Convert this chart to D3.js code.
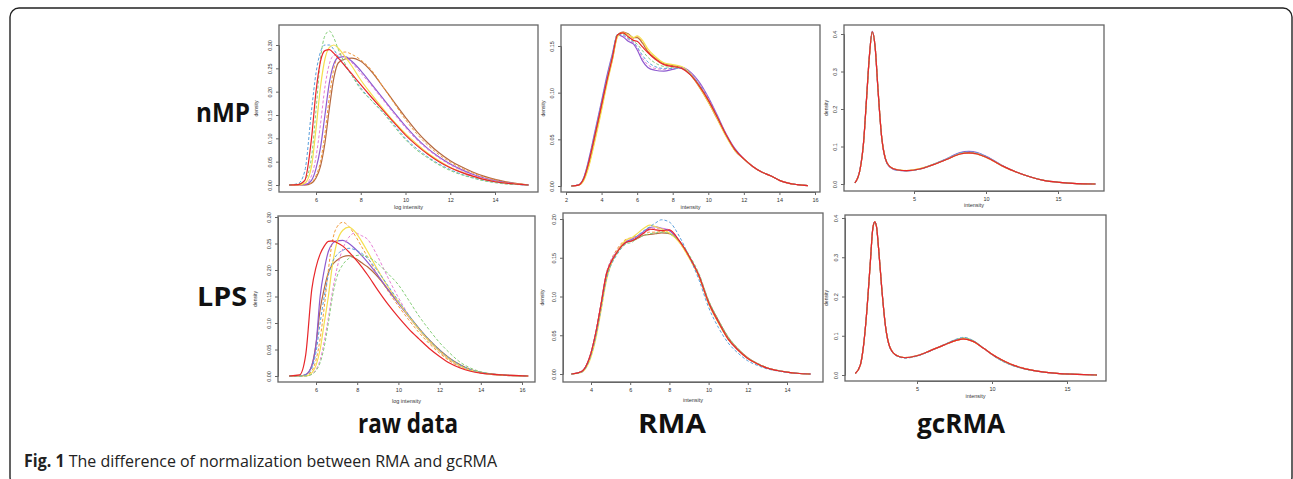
<!DOCTYPE html>
<html>
<head>
<meta charset="utf-8">
<style>
  body, html { margin: 0; padding: 0; background: #fff; }
  svg { display: block; }
</style>
</head>
<body>
<svg width="1293" height="479"></svg>
<script src="https://d3js.org/d3.v7.min.js"></script>
<script>
// ---- data ----
// series order in every panel: red, green, blue, yellow, pink, purple, orange, brown
var rawGridNmp = [4.8,5.2,5.5,5.8,6.0,6.2,6.4,6.6,6.8,7.0,7.3,7.6,8.0,8.5,9.0,9.5,10,10.5,11,11.5,12,12.5,13,13.5,14,14.5,15,15.5];
var rawNmp = [
  [0,0.001,0.01,0.1,0.2,0.265,0.288,0.29,0.282,0.272,0.255,0.238,0.215,0.187,0.16,0.133,0.107,0.085,0.066,0.05,0.037,0.027,0.019,0.012,0.007,0.004,0.002,0],
  [0,0.002,0.01,0.06,0.16,0.27,0.32,0.33,0.315,0.29,0.26,0.235,0.205,0.18,0.155,0.125,0.097,0.075,0.058,0.043,0.031,0.022,0.015,0.009,0.005,0.002,0.001,0],
  [0,0.003,0.03,0.16,0.24,0.285,0.30,0.30,0.29,0.275,0.255,0.235,0.208,0.18,0.155,0.128,0.1,0.078,0.06,0.045,0.033,0.023,0.016,0.01,0.006,0.003,0.001,0],
  [0,0,0.004,0.04,0.12,0.21,0.27,0.295,0.30,0.293,0.275,0.255,0.225,0.193,0.163,0.135,0.11,0.088,0.068,0.052,0.038,0.028,0.019,0.012,0.007,0.004,0.002,0],
  [0,0,0.002,0.02,0.06,0.13,0.21,0.26,0.278,0.28,0.275,0.262,0.24,0.212,0.182,0.152,0.123,0.097,0.076,0.058,0.043,0.031,0.021,0.014,0.008,0.004,0.002,0],
  [0,0,0.001,0.01,0.035,0.08,0.15,0.22,0.26,0.273,0.275,0.265,0.245,0.215,0.185,0.155,0.126,0.1,0.078,0.06,0.045,0.033,0.023,0.015,0.009,0.005,0.002,0],
  [0,0,0,0.005,0.02,0.05,0.11,0.19,0.25,0.278,0.285,0.28,0.268,0.245,0.21,0.175,0.14,0.11,0.085,0.065,0.049,0.036,0.026,0.017,0.011,0.006,0.003,0],
  [0,0,0,0.004,0.015,0.04,0.09,0.165,0.23,0.262,0.27,0.272,0.265,0.242,0.21,0.177,0.145,0.115,0.09,0.069,0.052,0.039,0.028,0.019,0.012,0.007,0.003,0]
];

var rmaGridNmp = [2.3,2.7,3.0,3.3,3.6,4.0,4.3,4.6,4.9,5.2,5.5,5.8,6.0,6.3,6.6,7.0,7.5,8.0,8.5,9.0,9.5,10,10.5,11,11.5,12,12.5,13,13.5,14,14.5,15,15.6];
var rmaNmp = [
  [0,0.001,0.008,0.027,0.052,0.087,0.113,0.137,0.162,0.164,0.16,0.156,0.155,0.149,0.143,0.136,0.13,0.128,0.126,0.119,0.107,0.092,0.074,0.055,0.039,0.029,0.021,0.015,0.011,0.006,0.003,0.0015,0.0005],
  [0,0.001,0.008,0.027,0.052,0.087,0.114,0.138,0.163,0.163,0.159,0.155,0.152,0.145,0.138,0.132,0.128,0.127,0.126,0.12,0.108,0.092,0.074,0.055,0.039,0.029,0.021,0.015,0.011,0.006,0.003,0.0015,0.0005],
  [0,0.0012,0.009,0.029,0.055,0.09,0.116,0.14,0.163,0.162,0.158,0.154,0.149,0.14,0.133,0.128,0.126,0.126,0.126,0.12,0.109,0.093,0.075,0.055,0.039,0.029,0.021,0.015,0.011,0.006,0.003,0.0015,0.0005],
  [0,0.0008,0.006,0.022,0.046,0.081,0.109,0.134,0.16,0.164,0.162,0.159,0.161,0.156,0.147,0.139,0.132,0.13,0.128,0.12,0.106,0.09,0.072,0.053,0.038,0.029,0.021,0.015,0.011,0.006,0.003,0.0015,0.0005],
  [0,0.0012,0.009,0.029,0.054,0.089,0.115,0.139,0.163,0.161,0.157,0.153,0.148,0.137,0.13,0.126,0.125,0.126,0.127,0.121,0.11,0.094,0.075,0.056,0.039,0.029,0.021,0.015,0.011,0.006,0.003,0.0015,0.0005],
  [0,0.0012,0.009,0.03,0.056,0.091,0.118,0.141,0.162,0.16,0.155,0.152,0.146,0.134,0.127,0.124,0.123,0.125,0.127,0.122,0.111,0.095,0.076,0.056,0.04,0.029,0.021,0.015,0.011,0.006,0.003,0.0015,0.0005],
  [0,0.001,0.007,0.025,0.05,0.085,0.112,0.136,0.162,0.165,0.162,0.158,0.16,0.154,0.145,0.138,0.131,0.129,0.127,0.12,0.107,0.091,0.073,0.054,0.038,0.029,0.021,0.015,0.011,0.006,0.003,0.0015,0.0005],
  [0,0.0009,0.007,0.024,0.049,0.084,0.111,0.135,0.161,0.165,0.163,0.159,0.159,0.153,0.144,0.137,0.131,0.129,0.127,0.119,0.106,0.09,0.072,0.054,0.038,0.029,0.021,0.015,0.011,0.006,0.003,0.0015,0.0005]
];

var gcGridNmp = [0.9,1.25,1.5,1.7,1.9,2.1,2.3,2.5,2.75,3.0,3.3,3.8,4.5,5.4,6.3,7.3,8.2,8.8,9.4,10.3,11.2,12.1,13.1,14,15.1,16.3,17.6];
var gcNmp = [
  [0.003,0.038,0.112,0.225,0.34,0.406,0.366,0.252,0.127,0.069,0.047,0.038,0.0355,0.04,0.051,0.066,0.08,0.083,0.08,0.066,0.047,0.032,0.0186,0.0098,0.0044,0.001,0],
  [0.003,0.037,0.11,0.223,0.338,0.405,0.367,0.254,0.128,0.07,0.047,0.038,0.0355,0.04,0.051,0.0665,0.081,0.084,0.081,0.0665,0.047,0.032,0.0186,0.0098,0.0044,0.001,0],
  [0.003,0.039,0.113,0.226,0.341,0.406,0.365,0.251,0.126,0.069,0.046,0.037,0.035,0.04,0.052,0.068,0.083,0.086,0.083,0.068,0.048,0.032,0.0186,0.0098,0.0044,0.001,0],
  [0.003,0.038,0.111,0.224,0.339,0.405,0.366,0.253,0.127,0.069,0.047,0.038,0.0358,0.041,0.052,0.0665,0.081,0.084,0.0805,0.066,0.047,0.032,0.0186,0.0098,0.0044,0.001,0],
  [0.003,0.038,0.112,0.225,0.34,0.406,0.366,0.252,0.127,0.069,0.047,0.038,0.0355,0.04,0.0515,0.067,0.082,0.085,0.082,0.067,0.0475,0.032,0.0186,0.0098,0.0044,0.001,0],
  [0.003,0.039,0.113,0.226,0.341,0.407,0.365,0.251,0.126,0.068,0.046,0.037,0.035,0.04,0.052,0.068,0.084,0.087,0.084,0.068,0.048,0.032,0.0186,0.0098,0.0044,0.001,0],
  [0.003,0.037,0.11,0.223,0.338,0.405,0.367,0.254,0.128,0.07,0.048,0.039,0.036,0.041,0.051,0.066,0.08,0.082,0.079,0.065,0.046,0.031,0.0186,0.0098,0.0044,0.001,0],
  [0.003,0.038,0.111,0.224,0.339,0.405,0.366,0.253,0.127,0.07,0.047,0.038,0.0357,0.04,0.051,0.066,0.0805,0.083,0.08,0.066,0.047,0.032,0.0186,0.0098,0.0044,0.001,0]
];

var rawGridLps = [4.7,5.2,5.5,5.8,6.0,6.2,6.4,6.6,6.8,7.0,7.3,7.6,7.9,8.2,8.5,9.0,9.5,10,10.5,11,11.5,12,12.5,13,13.5,14,14.5,15,15.5,16.3];
var rawLps = [
  [0,0.002,0.04,0.165,0.205,0.23,0.245,0.254,0.255,0.252,0.245,0.234,0.221,0.207,0.191,0.162,0.135,0.111,0.089,0.07,0.052,0.037,0.024,0.015,0.009,0.0055,0.0035,0.002,0.001,0],
  [0,0,0,0.003,0.01,0.025,0.055,0.1,0.15,0.185,0.21,0.222,0.227,0.228,0.225,0.212,0.193,0.172,0.143,0.113,0.087,0.063,0.043,0.026,0.015,0.008,0.004,0.002,0.001,0],
  [0,0,0.002,0.015,0.045,0.1,0.15,0.19,0.215,0.228,0.237,0.241,0.238,0.232,0.222,0.198,0.17,0.142,0.115,0.09,0.068,0.049,0.033,0.021,0.012,0.007,0.004,0.002,0.001,0],
  [0,0,0,0.006,0.02,0.05,0.1,0.15,0.21,0.25,0.275,0.281,0.272,0.255,0.235,0.2,0.168,0.14,0.113,0.088,0.066,0.047,0.031,0.019,0.011,0.006,0.003,0.0015,0.0005,0],
  [0,0,0,0.004,0.012,0.03,0.065,0.11,0.16,0.2,0.24,0.262,0.27,0.265,0.258,0.225,0.185,0.148,0.115,0.088,0.065,0.046,0.03,0.018,0.011,0.006,0.003,0.0015,0.0005,0],
  [0,0,0.003,0.02,0.06,0.15,0.2,0.235,0.25,0.255,0.256,0.25,0.24,0.228,0.215,0.19,0.163,0.137,0.112,0.088,0.066,0.047,0.031,0.019,0.011,0.006,0.003,0.0015,0.0005,0],
  [0,0,0.001,0.01,0.03,0.07,0.13,0.2,0.255,0.28,0.29,0.282,0.265,0.245,0.225,0.19,0.16,0.132,0.106,0.082,0.061,0.043,0.028,0.017,0.01,0.006,0.003,0.0015,0.0005,0],
  [0,0,0.002,0.02,0.06,0.125,0.165,0.195,0.21,0.218,0.225,0.227,0.222,0.214,0.206,0.187,0.163,0.138,0.114,0.09,0.068,0.049,0.033,0.021,0.012,0.007,0.004,0.002,0.001,0]
];

var rmaGridLps = [3.0,3.5,3.8,4.0,4.3,4.5,4.8,5.0,5.3,5.6,5.8,6.1,6.3,6.7,7.0,7.3,7.6,8.0,8.5,9.0,9.5,10,10.5,11,11.5,12,12.5,13,13.5,14,14.5,15.2];
var rmaLps = [
  [0,0.003,0.013,0.027,0.06,0.088,0.13,0.143,0.156,0.166,0.17,0.172,0.175,0.182,0.187,0.186,0.185,0.186,0.172,0.152,0.127,0.092,0.067,0.045,0.031,0.02,0.013,0.0075,0.0045,0.0025,0.001,0],
  [0,0.003,0.012,0.026,0.058,0.086,0.127,0.141,0.154,0.164,0.168,0.17,0.174,0.179,0.181,0.182,0.183,0.181,0.172,0.154,0.13,0.095,0.07,0.048,0.033,0.021,0.014,0.008,0.0048,0.0026,0.001,0],
  [0,0.002,0.011,0.024,0.055,0.082,0.124,0.139,0.153,0.164,0.169,0.173,0.177,0.185,0.19,0.195,0.199,0.196,0.178,0.152,0.122,0.086,0.06,0.04,0.027,0.017,0.011,0.0065,0.004,0.002,0.001,0],
  [0,0.002,0.01,0.022,0.052,0.08,0.122,0.14,0.156,0.168,0.173,0.176,0.18,0.188,0.192,0.19,0.187,0.182,0.17,0.15,0.126,0.091,0.066,0.045,0.031,0.02,0.013,0.0075,0.0045,0.0025,0.001,0],
  [0,0.003,0.013,0.028,0.06,0.089,0.131,0.145,0.158,0.168,0.172,0.175,0.177,0.183,0.186,0.188,0.188,0.186,0.172,0.151,0.126,0.091,0.066,0.045,0.031,0.02,0.013,0.0075,0.0045,0.0025,0.001,0],
  [0,0.003,0.013,0.027,0.06,0.088,0.13,0.144,0.157,0.167,0.171,0.174,0.177,0.184,0.189,0.19,0.188,0.185,0.172,0.152,0.127,0.092,0.067,0.045,0.031,0.02,0.013,0.0075,0.0045,0.0025,0.001,0],
  [0,0.003,0.013,0.028,0.061,0.09,0.132,0.146,0.16,0.17,0.174,0.176,0.178,0.182,0.183,0.183,0.184,0.182,0.17,0.15,0.126,0.091,0.066,0.045,0.031,0.02,0.013,0.0075,0.0045,0.0025,0.001,0],
  [0,0.003,0.013,0.027,0.06,0.088,0.129,0.143,0.156,0.166,0.17,0.172,0.174,0.179,0.18,0.181,0.182,0.181,0.171,0.152,0.128,0.094,0.069,0.047,0.032,0.021,0.013,0.0078,0.0046,0.0025,0.001,0]
];

var gcGridLps = [0.89,1.22,1.44,1.67,1.89,2.05,2.18,2.3,2.44,2.67,2.89,3.22,3.67,4.22,5.0,5.89,6.78,7.67,8.1,8.78,9.44,10.33,11.22,12.1,13.0,14.33,15.67,17.0];
var gcLps = [
  [0.004,0.025,0.076,0.17,0.288,0.372,0.39,0.378,0.322,0.212,0.127,0.068,0.049,0.044,0.049,0.062,0.076,0.089,0.092,0.085,0.068,0.045,0.028,0.017,0.01,0.004,0.0017,0],
  [0.004,0.024,0.075,0.168,0.286,0.371,0.389,0.378,0.323,0.213,0.128,0.069,0.049,0.044,0.049,0.062,0.077,0.091,0.095,0.087,0.069,0.044,0.027,0.016,0.01,0.004,0.0017,0],
  [0.005,0.027,0.078,0.172,0.29,0.373,0.391,0.377,0.321,0.211,0.126,0.067,0.048,0.043,0.048,0.061,0.077,0.092,0.096,0.087,0.068,0.043,0.026,0.016,0.0095,0.004,0.0017,0],
  [0.004,0.025,0.076,0.17,0.288,0.372,0.39,0.378,0.322,0.212,0.127,0.068,0.049,0.044,0.049,0.062,0.076,0.089,0.093,0.085,0.068,0.044,0.027,0.017,0.01,0.004,0.0017,0],
  [0.004,0.025,0.076,0.17,0.288,0.372,0.39,0.378,0.322,0.212,0.127,0.068,0.049,0.044,0.0495,0.0625,0.077,0.09,0.094,0.086,0.068,0.044,0.027,0.017,0.01,0.004,0.0017,0],
  [0.004,0.025,0.076,0.17,0.288,0.372,0.39,0.378,0.322,0.212,0.127,0.068,0.049,0.044,0.049,0.062,0.076,0.09,0.093,0.086,0.068,0.044,0.027,0.017,0.01,0.004,0.0017,0],
  [0.004,0.024,0.075,0.169,0.287,0.371,0.389,0.378,0.323,0.213,0.128,0.069,0.05,0.045,0.05,0.062,0.076,0.088,0.091,0.084,0.068,0.046,0.029,0.018,0.0105,0.004,0.0017,0],
  [0.004,0.025,0.076,0.17,0.288,0.372,0.39,0.378,0.322,0.212,0.127,0.068,0.049,0.044,0.049,0.062,0.076,0.089,0.092,0.085,0.068,0.045,0.028,0.017,0.01,0.004,0.0017,0]
];

var rowLabels = ["nMP", "LPS"];
var colLabels = ["raw data", "RMA", "gcRMA"];
var rawTicksNmp = [6, 8, 10, 12, 14];
var rawTicksLps = [6, 8, 10, 12, 14, 16];
var rmaTicksNmp = [2, 4, 6, 8, 10, 12, 14, 16];
var rmaTicksLps = [4, 6, 8, 10, 12, 14];
var gcTicks = [5, 10, 15];
var densTicks30 = [0, 0.05, 0.10, 0.15, 0.20, 0.25, 0.30];
var densTicks20 = [0, 0.05, 0.10, 0.15, 0.20];
var densTicks15 = [0, 0.05, 0.10, 0.15];
var densTicks4 = [0, 0.1, 0.2, 0.3, 0.4];

// ---- styles ----
var lineColors = ["#e8262a", "#86cf7a", "#5a9fdc", "#f5df4f", "#e77fd6", "#8e5bd0", "#f39a3a", "#b5683f"];
var lineDash   = [null, "3,2", "3,2", null, "3,2", null, "3,2", null];
var axisFont = "Liberation Sans, Arial, sans-serif";
var labelFont = "'Open Sans', sans-serif";

var svg = d3.select("svg");

// outer rounded frame, bottom edge runs just off the page
svg.append("rect")
  .attr("x", 10).attr("y", 8).attr("width", 1282).attr("height", 478)
  .attr("rx", 9).attr("fill", "none").attr("stroke", "#222").attr("stroke-width", 1.4);

var panels = [
  { grid: rawGridNmp, data: rawNmp, box: [279, 25, 538, 192], xd: [6, 14], xr: [316, 495], yd: [0, 0.30], yr: [185, 45],
    xt: rawTicksNmp, yt: densTicks30, yf: ".2f", xl: "log intensity", xlY: 209, ylX: 258 },
  { grid: rmaGridNmp, data: rmaNmp, box: [561, 25, 820, 192], xd: [2, 16], xr: [566, 815], yd: [0, 0.15], yr: [186, 46],
    xt: rmaTicksNmp, yt: densTicks15, yf: ".2f", xl: "intensity", xlY: 209, ylX: 545 },
  { grid: gcGridNmp, data: gcNmp, box: [844, 25, 1104, 191], xd: [5, 15], xr: [914, 1058], yd: [0, 0.4], yr: [184, 34],
    xt: gcTicks, yt: densTicks4, yf: ".1f", xl: "intensity", xlY: 207, ylX: 828 },
  { grid: rawGridLps, data: rawLps, box: [278, 216, 535, 382], xd: [6, 16], xr: [316, 522], yd: [0, 0.30], yr: [376, 217],
    xt: rawTicksLps, yt: densTicks30, yf: ".2f", xl: "log intensity", xlY: 403, ylX: 257 },
  { grid: rmaGridLps, data: rmaLps, box: [563, 213, 823, 382], xd: [4, 14], xr: [591, 787], yd: [0, 0.20], yr: [374, 219],
    xt: rmaTicksLps, yt: densTicks20, yf: ".2f", xl: "intensity", xlY: 402, ylX: 544 },
  { grid: gcGridLps, data: gcLps, box: [845, 215, 1106, 381], xd: [5, 15], xr: [917, 1067], yd: [0, 0.4], yr: [375, 218],
    xt: gcTicks, yt: densTicks4, yf: ".1f", xl: "intensity", xlY: 398, ylX: 828 }
];

panels.forEach(function (p) {
  var x = d3.scaleLinear().domain(p.xd).range(p.xr);
  var y = d3.scaleLinear().domain(p.yd).range(p.yr);
  var g = svg.append("g");
  var b = p.box;

  var line = d3.line()
    .x(function (d, i) { return x(p.grid[i]); })
    .y(function (d) { return y(d); })
    .curve(d3.curveMonotoneX);

  // draw in reverse so red ends on top
  for (var k = p.data.length - 1; k >= 0; k--) {
    g.append("path")
      .attr("d", line(p.data[k]))
      .attr("fill", "none")
      .attr("stroke", lineColors[k])
      .attr("stroke-width", lineDash[k] ? 1 : 1.2)
      .attr("stroke-dasharray", lineDash[k]);
  }

  g.append("rect")
    .attr("x", b[0]).attr("y", b[1]).attr("width", b[2] - b[0]).attr("height", b[3] - b[1])
    .attr("fill", "none").attr("stroke", "#666").attr("stroke-width", 1.3);

  // x axis (R style: ticks hang below the box)
  var xa = d3.axisBottom(x).tickValues(p.xt).tickSize(3).tickPadding(3).tickFormat(d3.format("d"));
  var gx = g.append("g").attr("transform", "translate(0," + b[3] + ")").call(xa);
  gx.select(".domain").attr("stroke", "#666");
  gx.selectAll(".tick line").attr("stroke", "#666");
  gx.selectAll("text").attr("font-family", axisFont).attr("font-size", 5.5).attr("fill", "#333");

  // y axis, labels turned along the axis
  var ya = d3.axisLeft(y).tickValues(p.yt).tickSize(3).tickPadding(0).tickFormat(d3.format(p.yf));
  var gy = g.append("g").attr("transform", "translate(" + b[0] + ",0)").call(ya);
  gy.select(".domain").attr("stroke", "#666");
  gy.selectAll(".tick line").attr("stroke", "#666");
  gy.selectAll("text")
    .attr("x", null).attr("dy", null)
    .attr("text-anchor", "middle")
    .attr("transform", "translate(-7,0) rotate(-90)")
    .attr("font-family", axisFont).attr("font-size", 5.5).attr("fill", "#333");

  g.append("text")
    .attr("x", (b[0] + b[2]) / 2).attr("y", p.xlY)
    .attr("text-anchor", "middle")
    .attr("font-family", axisFont).attr("font-size", 5.5).attr("fill", "#333")
    .text(p.xl);

  g.append("text")
    .attr("transform", "translate(" + p.ylX + "," + ((b[1] + b[3]) / 2) + ") rotate(-90)")
    .attr("text-anchor", "middle")
    .attr("font-family", axisFont).attr("font-size", 5).attr("fill", "#333")
    .text("density");
});

// row and column titles
var rowPos = [[196, 122, 54], [197, 306, 50]];
rowLabels.forEach(function (t, i) {
  svg.append("text")
    .attr("x", rowPos[i][0]).attr("y", rowPos[i][1])
    .attr("font-family", labelFont).attr("font-weight", 700).attr("font-size", 26)
    .attr("textLength", rowPos[i][2]).attr("lengthAdjust", "spacingAndGlyphs")
    .attr("fill", "#111")
    .text(t);
});

var colPos = [[358, 100], [638, 68], [917, 88]];
colLabels.forEach(function (t, i) {
  svg.append("text")
    .attr("x", colPos[i][0]).attr("y", 433)
    .attr("font-family", labelFont).attr("font-weight", 700).attr("font-size", 26)
    .attr("textLength", colPos[i][1]).attr("lengthAdjust", "spacingAndGlyphs")
    .attr("fill", "#111")
    .text(t);
});

// caption
var cap = svg.append("text")
  .attr("x", 24).attr("y", 467)
  .attr("font-family", labelFont).attr("font-size", 17).attr("fill", "#222")
  .attr("textLength", 473).attr("lengthAdjust", "spacingAndGlyphs");
cap.append("tspan").attr("font-weight", 700).text("Fig. 1");
cap.append("tspan").text(" The difference of normalization between RMA and gcRMA");
</script>
</body>
</html>
